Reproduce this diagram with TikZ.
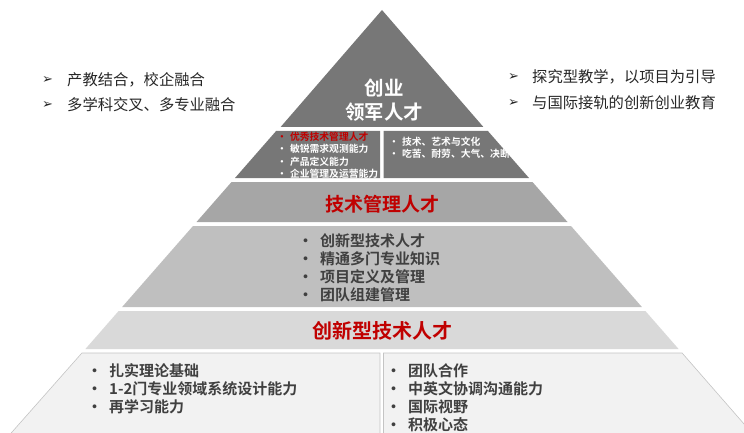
\documentclass[tikz,border=0pt]{standalone}
\usepackage{fontspec}
\setmainfont{Noto Sans CJK SC}[BoldFont={Noto Sans CJK SC Bold}]
\newfontfamily\arrowfont{DejaVu Sans}
\definecolor{cdark}{HTML}{777777}
\definecolor{cmid}{HTML}{A6A6A6}
\definecolor{cband}{HTML}{BFBFBF}
\definecolor{clight}{HTML}{D9D9D9}
\definecolor{cpale}{HTML}{F2F2F2}
\definecolor{cline}{HTML}{C4C4C4}
\definecolor{cred}{HTML}{C00000}
\definecolor{ctext}{HTML}{404040}
\definecolor{cblack}{HTML}{262626}
\tikzset{
  titletext/.style={font=\bfseries\fontsize{19.5}{22}\selectfont, text=white, inner sep=0pt},
  darkitem/.style={font=\bfseries\fontsize{9.8}{11}\selectfont, text=white, inner sep=0pt, anchor=west},
  bandtitle/.style={font=\bfseries\fontsize{19}{22}\selectfont, text=cred, inner sep=0pt},
  banditem/.style={font=\bfseries\fontsize{15}{17}\selectfont, text=ctext, inner sep=0pt, anchor=west},
  toptext/.style={font=\fontsize{15.3}{18}\selectfont, text=cblack, inner sep=0pt, anchor=west},
  arrowmark/.style={font=\arrowfont\fontsize{13}{15}\selectfont, text=cblack, inner sep=0pt, anchor=west},
  palebox/.style={fill=cpale, draw=cline, line width=0.6pt}
}
\begin{document}
\begin{tikzpicture}[x=1pt,y=-1pt]
\useasboundingbox (0,0) rectangle (744,433);
\clip (0,0) rectangle (744,433);
% pyramid levels
\fill[cdark] (382,10) -- (483.4,127) -- (280.6,127) -- cycle;
\fill[cdark] (276.1,131) -- (380,131) -- (380,178) -- (235,178) -- cycle;
\fill[cdark] (383.5,131) -- (487.9,131) -- (529,178) -- (383.5,178) -- cycle;
\fill[cmid] (231.5,182) -- (532.5,182) -- (567.5,222) -- (196.5,222) -- cycle;
\fill[cband] (193,226) -- (571,226) -- (641.9,307) -- (122.1,307) -- cycle;
\fill[clight] (118.6,311) -- (645.4,311) -- (678.6,349) -- (85.4,349) -- cycle;
\draw[palebox] (81.9,353) -- (380,353) -- (380,440) -- (5,440) -- cycle;
\draw[palebox] (383.5,353) -- (682.1,353) -- (758,440) -- (383.5,440) -- cycle;
% title
\node[titletext] (t1) at (384,88) {创业};
\node[titletext] (t2) at (384,112) {领军人才};
% dark boxes
\node[darkitem, text=cred] (d1) at (277,137) {•\hspace{3pt}优秀技术管理人才};
\node[darkitem] (d2) at (277,149) {•\hspace{3pt}敏锐需求观测能力};
\node[darkitem] (d3) at (277,162) {•\hspace{3pt}产品定义能力};
\node[darkitem] (d4) at (277,174) {•\hspace{3pt}企业管理及运营能力};
\node[darkitem] (d5) at (389,142) {•\hspace{3pt}技术、艺术与文化};
\node[darkitem] (d6) at (389,154) {•\hspace{3pt}吃苦、耐劳、大气、决断};
% band 2
\node[bandtitle] (b2) at (382,204) {技术管理人才};
% band 3
\node[banditem] (c1) at (298,241) {•\hspace{7pt}创新型技术人才};
\node[banditem] (c2) at (298,259) {•\hspace{7pt}精通多门专业知识};
\node[banditem] (c3) at (298,277) {•\hspace{7pt}项目定义及管理};
\node[banditem] (c4) at (298,295) {•\hspace{7pt}团队组建管理};
% band 4
\node[bandtitle, font=\bfseries\fontsize{20}{23}\selectfont] (b4) at (382,331) {创新型技术人才};
% bottom
\node[banditem] (e1) at (87,371) {•\hspace{7pt}扎实理论基础};
\node[banditem] (e2) at (87,389) {•\hspace{7pt}1-2门专业领域系统设计能力};
\node[banditem] (e3) at (87,407) {•\hspace{7pt}再学习能力};
\node[banditem] (f1) at (386,371) {•\hspace{7pt}团队合作};
\node[banditem] (f2) at (386,389) {•\hspace{7pt}中英文协调沟通能力};
\node[banditem] (f3) at (386,407) {•\hspace{7pt}国际视野};
\node[banditem] (f4) at (386,425) {•\hspace{7pt}积极心态};
% top texts
\node[arrowmark] (a1) at (42,80) {➢};
\node[toptext] (l1) at (67,80) {产教结合，校企融合};
\node[arrowmark] (a2) at (42,105) {➢};
\node[toptext] (l2) at (67,105) {多学科交叉、多专业融合};
\node[arrowmark] (a3) at (508,77) {➢};
\node[toptext] (r1) at (532,77) {探究型教学，以项目为引导};
\node[arrowmark] (a4) at (508,103) {➢};
\node[toptext] (r2) at (532,103) {与国际接轨的创新创业教育};
\end{tikzpicture}
\end{document}
